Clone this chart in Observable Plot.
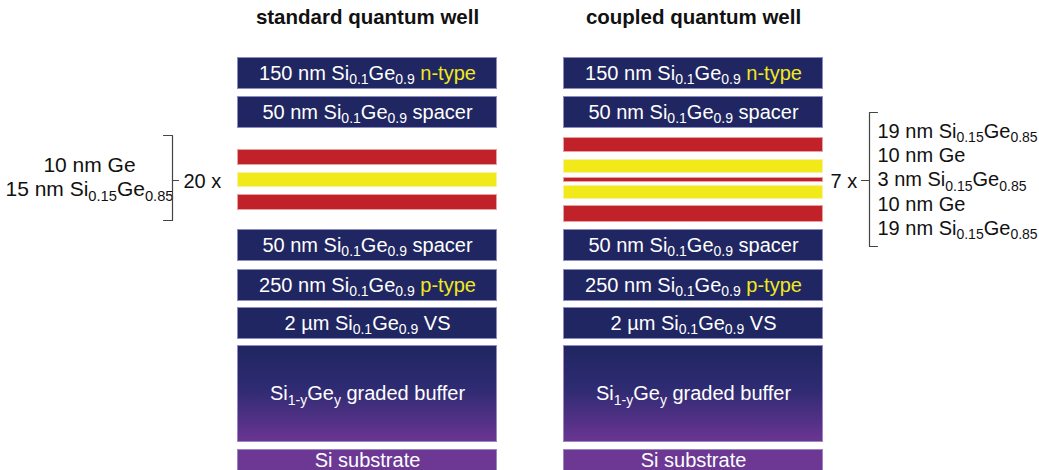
<!DOCTYPE html>
<html>
<head>
<meta charset="utf-8">
<script src="https://cdn.jsdelivr.net/npm/d3@7"></script>
<script src="https://cdn.jsdelivr.net/npm/@observablehq/plot@0.6"></script>
<style>
  html, body { margin: 0; padding: 0; background: #fff; }
  svg { display: block; font-family: "Liberation Sans", Arial, Helvetica, sans-serif; }
</style>
</head>
<body>
<div id="chart"></div>
<script>
// ---------- data ----------
const stackNames = ["standard quantum well", "coupled quantum well"];

const standardLabels = [
  "150 nm Si_{0.1}Ge_{0.9} *n-type*",
  "50 nm Si_{0.1}Ge_{0.9} spacer",
  "", "", "",
  "50 nm Si_{0.1}Ge_{0.9} spacer",
  "250 nm Si_{0.1}Ge_{0.9} *p-type*",
  "2 µm Si_{0.1}Ge_{0.9} VS",
  "Si_{1-y}Ge_{y} graded buffer",
  "Si substrate"
];
const standardMaterials = ["barrier", "barrier", "sige", "ge", "sige", "barrier", "barrier", "barrier", "graded", "substrate"];
const standardThickness = [32, 32, 16, 15, 16, 32, 32, 32, 97, 22];
const standardGaps = [57, 7, 21, 7, 7, 19, 8, 6, 6, 7];

const coupledLabels = [
  "150 nm Si_{0.1}Ge_{0.9} *n-type*",
  "50 nm Si_{0.1}Ge_{0.9} spacer",
  "", "", "", "", "",
  "50 nm Si_{0.1}Ge_{0.9} spacer",
  "250 nm Si_{0.1}Ge_{0.9} *p-type*",
  "2 µm Si_{0.1}Ge_{0.9} VS",
  "Si_{1-y}Ge_{y} graded buffer",
  "Si substrate"
];
const coupledMaterials = ["barrier", "barrier", "sige", "ge", "sige", "ge", "sige", "barrier", "barrier", "barrier", "graded", "substrate"];
const coupledThickness = [32, 32, 15, 14, 5, 14, 17, 32, 32, 32, 97, 22];
const coupledGaps = [57, 7, 9, 7, 4, 3, 6, 7, 8, 6, 6, 7];

const standardRepeat = "20 x";
const standardPeriod = ["10 nm Ge", "15 nm Si_{0.15}Ge_{0.85}"];
const coupledRepeat = "7 x";
const coupledPeriod = [
  "19 nm Si_{0.15}Ge_{0.85}",
  "10 nm Ge",
  "3 nm Si_{0.15}Ge_{0.85}",
  "10 nm Ge",
  "19 nm Si_{0.15}Ge_{0.85}"
];

// ---------- layout / style ----------
const W = 1039, H = 470;
const stackLeft = [237, 563];
const stackWidth = 260;
const materialFill = {
  barrier: "#1f2661",
  sige: "#c1222a",
  ge: "#f2e91b",
  graded: "url(#gradedGrad)",
  substrate: "#6c3893"
};
const materialStroke = {
  barrier: "#8c8cc0",
  sige: "#e8a0a0",
  ge: "#f6f3a0",
  graded: "#9a86c4",
  substrate: "#9a86c4"
};

function buildStack(si, labels, materials, thickness, gaps) {
  let y = 0;
  return labels.map((label, i) => {
    const y1 = y + gaps[i];
    const y2 = y1 + thickness[i];
    y = y2;
    return {
      stack: stackNames[si],
      x1: stackLeft[si], x2: stackLeft[si] + stackWidth,
      xm: stackLeft[si] + stackWidth / 2,
      y1, y2: material_extends(materials[i]) ? H + 2 : y2, ym: (y1 + y2) / 2,
      label, material: materials[i]
    };
  });
}
function material_extends(m) { return m === "substrate"; }

const layers = [
  ...buildStack(0, standardLabels, standardMaterials, standardThickness, standardGaps),
  ...buildStack(1, coupledLabels, coupledMaterials, coupledThickness, coupledGaps)
];

const titles = stackNames.map((name, i) => ({ name, x: stackLeft[i] + stackWidth / 2, y: 23 }));

const leftNotes = standardPeriod.map((t, i) => ({ label: t, x: 89, y: 165 + i * 24 }));
const rightNotes = coupledPeriod.map((t, i) => ({ label: t, x: 877, y: 131 + i * 24.2 }));
const repeats = [
  { label: standardRepeat, x: 183, y: 181 },
  { label: coupledRepeat, x: 830, y: 181 }
];
const bracketPaths = [
  [[163, 135], [172, 135], [172, 220], [163, 220]],
  [[172, 180], [178, 180]],
  [[877, 112], [869, 112], [869, 246], [877, 246]],
  [[869, 180], [861, 180]]
].flatMap((pts, k) => pts.map(([x, y]) => ({ x, y, k })));

const chart = Plot.plot({
  width: W,
  height: H,
  margin: 0,
  x: { domain: [0, W], range: [0, W], axis: null },
  y: { domain: [0, H], range: [0, H], axis: null },
  marks: [
    Plot.rect(layers, {
      x1: "x1", x2: "x2", y1: "y1", y2: "y2",
      fill: d => materialFill[d.material],
      stroke: d => materialStroke[d.material],
      strokeWidth: 1,
      inset: 0.5
    }),
    Plot.text(layers.filter(d => d.label), {
      x: "xm", y: "ym", text: "label",
      fill: "white", fontSize: 20, className: "rich"
    }),
    Plot.text(titles, {
      x: "x", y: "y", text: "name", fontSize: 20.5, fontWeight: "bold", fill: "#111",
      lineAnchor: "bottom"
    }),
    Plot.text(leftNotes, {
      x: "x", y: "y", text: "label", fontSize: 21, fill: "#111", className: "rich"
    }),
    Plot.text(rightNotes, {
      x: "x", y: "y", text: "label", fontSize: 20, fill: "#111", textAnchor: "start", className: "rich"
    }),
    Plot.text(repeats, {
      x: "x", y: "y", text: "label", fontSize: 20, fill: "#111", textAnchor: "start"
    }),
    Plot.line(bracketPaths, { x: "x", y: "y", z: "k", stroke: "#444", strokeWidth: 1.2, curve: "linear" })
  ]
});

// gradient definition
const svg = d3.select(chart);
const defs = svg.insert("defs", ":first-child");
const grad = defs.append("linearGradient").attr("id", "gradedGrad")
  .attr("x1", 0).attr("y1", 0).attr("x2", 0).attr("y2", 1);
grad.append("stop").attr("offset", "0%").attr("stop-color", "#1f2661");
grad.append("stop").attr("offset", "45%").attr("stop-color", "#2e2b72");
grad.append("stop").attr("offset", "100%").attr("stop-color", "#6b3592");

// rich text: _{sub} and *yellow*
svg.selectAll("g.rich text").each(function () {
  const el = d3.select(this);
  const raw = this.textContent;
  const parts = raw.split(/(_\{[^}]*\}|\*[^*]*\*)/).filter(s => s.length);
  el.text(null);
  let shifted = false;
  parts.forEach(p => {
    const ts = el.append("tspan");
    if (p.startsWith("_{")) {
      ts.text(p.slice(2, -1)).attr("font-size", "0.7em").attr("dy", shifted ? null : "0.3em");
      shifted = true;
    } else {
      if (shifted) ts.attr("dy", "-0.21em");
      shifted = false;
      if (p.startsWith("*")) ts.text(p.slice(1, -1)).attr("fill", "#f2e91b");
      else ts.text(p);
    }
  });
});

document.getElementById("chart").appendChild(chart);
</script>
</body>
</html>
